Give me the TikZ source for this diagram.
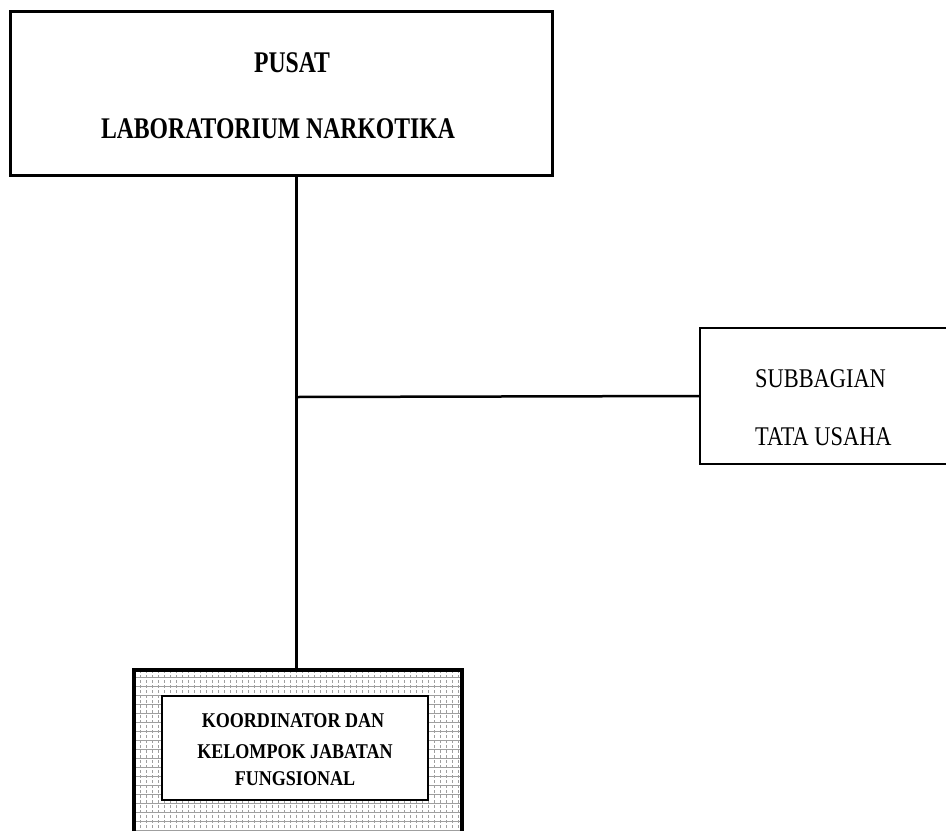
\documentclass[tikz,border=0pt]{standalone}
\usepackage{fontspec}
\newfontfamily\topfont[FakeStretch=0.79]{Liberation Serif}
\newfontfamily\subfont[FakeStretch=0.83]{Liberation Serif}
\newfontfamily\botfont[FakeStretch=0.86]{Liberation Serif}
\begin{document}
\begin{tikzpicture}[x=1pt,y=-1pt,
  boxshape/.style={rectangle, inner sep=0pt, outer sep=0pt, anchor=north west},
  toptext/.style={anchor=base, inner sep=0pt, font=\topfont\bfseries\fontsize{30}{30}\selectfont},
  subtext/.style={anchor=base west, inner sep=0pt, font=\subfont\fontsize{27}{27}\selectfont},
  bottext/.style={anchor=base, inner sep=0pt, font=\botfont\bfseries\fontsize{21}{21}\selectfont},
  thickline/.style={line width=3pt},
  thinline/.style={line width=1.5pt},
  patline/.style={gray!75, line width=0.8pt}
]
\useasboundingbox (0,0) rectangle (946,831);

% top box
\node[boxshape, draw, thickline, minimum width=542pt, minimum height=164pt] (top) at (10,11) {};
\node[toptext] (t1) at (292,72) {PUSAT};
\node[toptext] (t2) at (278,138) {LABORATORIUM NARKOTIKA};

% right box (cut by the page edge)
\node[boxshape, minimum width=246pt, minimum height=136pt] (sub) at (700,328) {};
\draw[thinline] (sub.north east) -- (sub.north west) -- (sub.south west) -- (sub.south east);
\node[subtext] (s1) at (755,387) {SUBBAGIAN};
\node[subtext] (s2) at (755,445) {TATA USAHA};

% bottom box (cut by the page edge)
\node[boxshape, minimum width=328pt, minimum height=161pt] (bot) at (134,670) {};
\begin{scope}
  \clip (134,670) rectangle (462,831);
  \foreach \yy in {677,686,...,831} { \draw[patline] (134,\yy) -- (462,\yy); }
  \foreach \xx in {140,146,...,462} { \draw[patline, dash pattern=on 3pt off 2pt] (\xx,670) -- (\xx,831); }
\end{scope}
\node[boxshape, draw, fill=white, thinline, minimum width=266pt, minimum height=104pt] (inner) at (162,696) {};
\draw[line width=3.5pt] (bot.south west) -- (bot.north west) -- (bot.north east) -- (bot.south east);
\node[bottext] (b1) at (293,727) {KOORDINATOR DAN};
\node[bottext] (b2) at (295,758) {KELOMPOK JABATAN};
\node[bottext] (b3) at (295,785) {FUNGSIONAL};

% connectors
\coordinate (j) at (296,397);
\draw[thickline] (top.south -| j) -- (j |- bot.north);
\draw[line width=2.5pt] (j) -- (sub.west);
\end{tikzpicture}
\end{document}
